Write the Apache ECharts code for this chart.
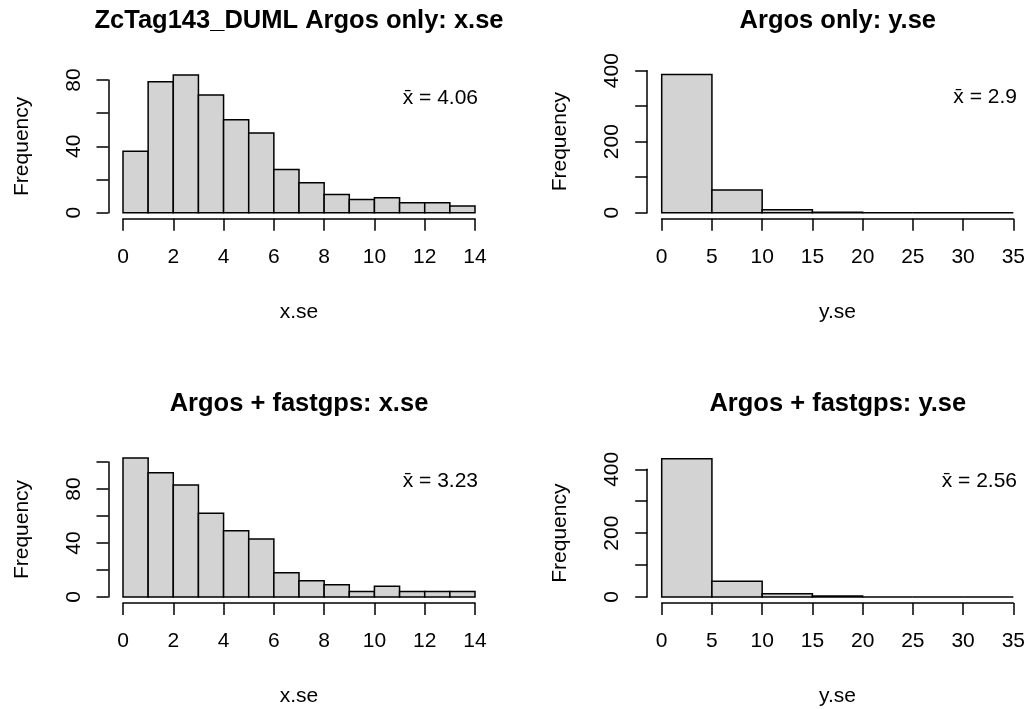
<!DOCTYPE html>
<html>
<head>
<meta charset="utf-8">
<script src="https://cdn.jsdelivr.net/npm/echarts@6/dist/echarts.min.js"></script>
<style>
  html, body { margin: 0; padding: 0; background: #ffffff; }
  #chart { width: 1028px; height: 709px; }
</style>
</head>
<body>
<div id="chart"></div>
<script>
// ---- data ----
const panelTitles = [
  'ZcTag143_DUML Argos only: x.se',
  'Argos only: y.se',
  'Argos + fastgps: x.se',
  'Argos + fastgps: y.se'
];
const xAxisNames = ['x.se', 'y.se', 'x.se', 'y.se'];
const meanLabels = ['4.06', '2.9', '3.23', '2.56'];

const xseBreaks = [0, 1, 2, 3, 4, 5, 6, 7, 8, 9, 10, 11, 12, 13, 14];
const yseBreaks = [0, 5, 10, 15, 20, 25, 30, 35];

const argosXseCounts   = [37, 79, 83, 71, 56, 48, 26, 18, 11, 8, 9, 6, 6, 4];
const argosYseCounts   = [389, 64, 8, 1, 0, 0, 0];
const fastgpsXseCounts = [103, 92, 83, 62, 49, 43, 18, 12, 9, 4, 8, 4, 4, 4];
const fastgpsYseCounts = [433, 49, 10, 3, 0, 0, 0];

const xTickStep = [2, 5, 2, 5];
const yMax = [80, 400, 100, 400];
const yTickStep = [20, 100, 20, 100];
const yLabelStep = [40, 200, 40, 200];

// ---- layout ----
const FONT = 'Liberation Sans, Arial, sans-serif';
const grids = [
  { left: 123,   top: 80,    width: 352,   height: 132.7 },
  { left: 661.7, top: 70.7,  width: 352.3, height: 142 },
  { left: 123,   top: 462,   width: 352,   height: 135 },
  { left: 661.7, top: 469.3, width: 352.3, height: 127.7 }
];
const titleCenters = [299, 837.8, 299, 837.8];
const titleTops = [8, 8, 391, 391];
const meanPos = [[478, 98], [1017, 97], [478, 481], [1017, 481]];

const breaksList = [xseBreaks, yseBreaks, xseBreaks, yseBreaks];
const countsList = [argosXseCounts, argosYseCounts, fastgpsXseCounts, fastgpsYseCounts];

function histData(breaks, counts) {
  return counts.map((c, i) => [breaks[i], breaks[i + 1], c]);
}

const option = {
  backgroundColor: '#ffffff',
  animation: false,
  textStyle: { fontFamily: FONT },
  title: panelTitles.map((t, i) => ({
    text: t,
    left: titleCenters[i],
    top: titleTops[i],
    textAlign: 'center',
    padding: 0,
    textStyle: { fontSize: 25.5, fontWeight: 'bold', color: '#000', fontFamily: FONT }
  })),
  grid: grids.map(g => Object.assign({ containLabel: false }, g)),
  xAxis: grids.map((g, i) => ({
    type: 'value',
    gridIndex: i,
    min: 0,
    max: breaksList[i][breaksList[i].length - 1],
    interval: xTickStep[i],
    offset: 6,
    name: xAxisNames[i],
    nameLocation: 'middle',
    nameGap: 83,
    nameTextStyle: { fontSize: 21, color: '#000', fontFamily: FONT },
    axisLine: { show: true, onZero: false, lineStyle: { color: '#000', width: 1.5 } },
    axisTick: { show: true, length: 12, lineStyle: { color: '#000', width: 1.5 } },
    axisLabel: { fontSize: 21, color: '#000', margin: 28, fontFamily: FONT },
    splitLine: { show: false }
  })),
  yAxis: grids.map((g, i) => ({
    type: 'value',
    gridIndex: i,
    min: 0,
    max: yMax[i],
    interval: yTickStep[i],
    offset: 14.5,
    name: 'Frequency',
    nameLocation: 'middle',
    nameGap: 76,
    nameTextStyle: { fontSize: 21, color: '#000', fontFamily: FONT },
    axisLine: { show: true, onZero: false, lineStyle: { color: '#000', width: 1.5 } },
    axisTick: { show: true, length: 12, lineStyle: { color: '#000', width: 1.5 } },
    axisLabel: {
      fontSize: 21, color: '#000', margin: 24, rotate: 90, fontFamily: FONT,
      formatter: (v) => (v % yLabelStep[i] === 0 ? String(v) : '')
    },
    splitLine: { show: false }
  })),
  series: countsList.map((counts, i) => ({
    type: 'custom',
    xAxisIndex: i,
    yAxisIndex: i,
    clip: false,
    data: histData(breaksList[i], counts),
    encode: { x: [0, 1], y: 2 },
    renderItem: function (params, api) {
      const p0 = api.coord([api.value(0), 0]);
      const p1 = api.coord([api.value(1), api.value(2)]);
      return {
        type: 'rect',
        shape: { x: p0[0], y: p1[1], width: p1[0] - p0[0], height: p0[1] - p1[1] },
        style: { fill: '#d3d3d3', stroke: '#000', lineWidth: 1.5 }
      };
    }
  })),
  graphic: meanLabels.map((m, i) => ({
    type: 'text',
    x: meanPos[i][0],
    y: meanPos[i][1],
    style: {
      text: 'x\u0304 = ' + m,
      align: 'right',
      verticalAlign: 'middle',
      fontSize: 21,
      fontFamily: FONT,
      fill: '#000'
    }
  }))
};

const chart = echarts.init(document.getElementById('chart'));
chart.setOption(option);
</script>
</body>
</html>
